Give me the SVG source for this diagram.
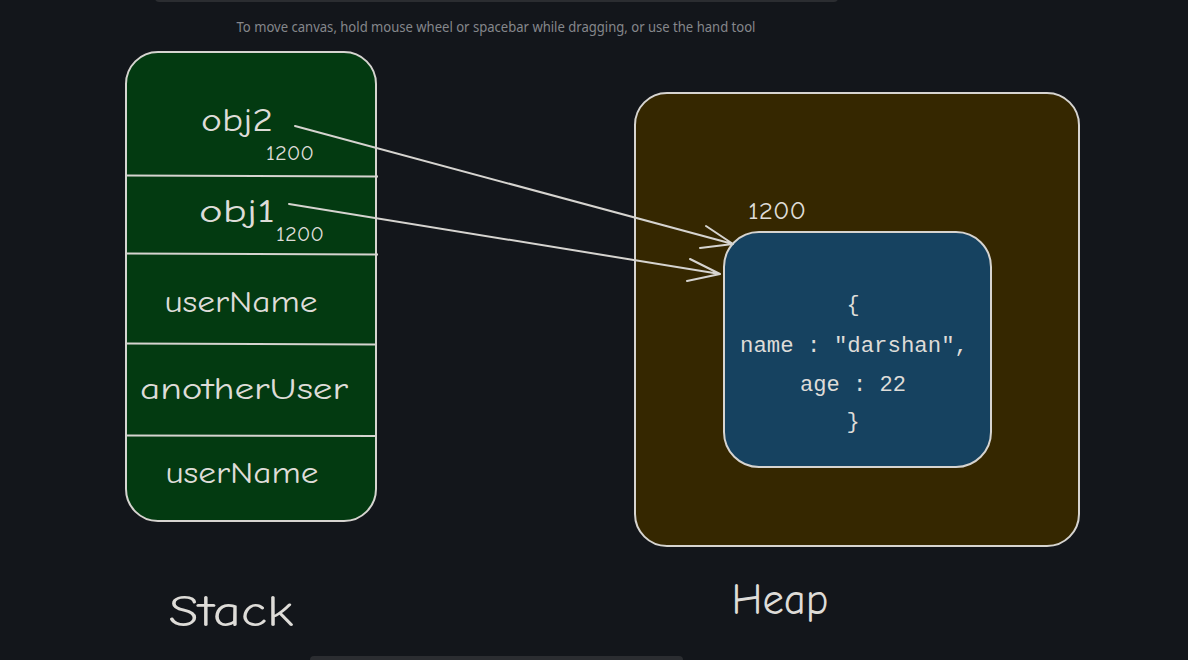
<svg xmlns="http://www.w3.org/2000/svg" width="1188" height="660" viewBox="0 0 1188 660">
<style>
.hand{font-family:"Comic Neue","Noto Sans","DejaVu Sans",sans-serif;fill:#dedcd8;text-anchor:middle}
.mono{font-family:"Liberation Mono","DejaVu Sans Mono",monospace;fill:#dedcd8;text-anchor:middle;font-size:22px}
.box{stroke:#d6d4d0;stroke-width:2}
.div{stroke:#d6d4d0;stroke-width:1.8}
.conn{stroke:#d6d4d0;stroke-width:2;fill:none;stroke-linecap:round;stroke-linejoin:round}
</style>
<rect width="1188" height="660" fill="#13161b"/>
<rect x="155" y="-6" width="683" height="8" rx="4" fill="#2b2d31"/>
<rect x="310" y="656" width="373" height="10" rx="4" fill="#2b2d31"/>
<text x="496" y="32" font-family="Noto Sans, Open Sans, sans-serif" font-size="13.5" fill="#85878b" text-anchor="middle" textLength="519" lengthAdjust="spacingAndGlyphs">To move canvas, hold mouse wheel or spacebar while dragging, or use the hand tool</text>

<g id="stack">
<rect class="box" x="126" y="52" width="250" height="469" rx="32" fill="#033a11"/>
<line class="div" x1="126" y1="175.5" x2="378" y2="176.5"/>
<line class="div" x1="126" y1="253.5" x2="378" y2="254.5"/>
<line class="div" x1="126" y1="343.5" x2="376" y2="344.5"/>
<line class="div" x1="126" y1="435.5" x2="376" y2="436"/>
</g>
<g id="stack-obj2"><text class="hand" x="237" y="131" font-size="32" textLength="72" lengthAdjust="spacingAndGlyphs">obj2</text><text class="hand" x="290" y="160" font-size="21" textLength="48" lengthAdjust="spacingAndGlyphs">1200</text></g>
<g id="stack-obj1"><text class="hand" x="237" y="222" font-size="32" textLength="76" lengthAdjust="spacingAndGlyphs">obj1</text><text class="hand" x="300" y="241" font-size="21" textLength="48" lengthAdjust="spacingAndGlyphs">1200</text></g>
<g id="stack-userName1"><text class="hand" x="241" y="312" font-size="31" textLength="153" lengthAdjust="spacingAndGlyphs">userName</text></g>
<g id="stack-anotherUser"><text class="hand" x="244" y="399" font-size="31" textLength="208" lengthAdjust="spacingAndGlyphs">anotherUser</text></g>
<g id="stack-userName2"><text class="hand" x="242" y="483" font-size="31" textLength="153" lengthAdjust="spacingAndGlyphs">userName</text></g>
<g id="stack-label"><text class="hand" x="231" y="626" font-size="44" textLength="125" lengthAdjust="spacingAndGlyphs">Stack</text></g>

<g id="heap">
<rect class="box" x="635" y="93" width="444" height="453" rx="32" fill="#352700"/>
<text class="hand" x="777" y="219" font-size="25" textLength="58" lengthAdjust="spacingAndGlyphs">1200</text>
</g>
<g id="object">
<rect class="box" x="724" y="232" width="267" height="235" rx="35" fill="#164260"/>
<text class="mono" x="853" y="311">{</text>
<text class="mono" x="854" y="352" textLength="228" lengthAdjust="spacingAndGlyphs">name : "darshan",</text>
<text class="mono" x="853" y="391" textLength="106" lengthAdjust="spacingAndGlyphs">age : 22</text>
<text class="mono" x="853" y="428">}</text>
</g>
<g id="heap-label"><text class="hand" x="780" y="614" font-size="44" textLength="97" lengthAdjust="spacingAndGlyphs">Heap</text></g>

<g id="connectors">
<path class="conn" d="M295 126 L733 244 M706 226 L733 244 L700 248"/>
<path class="conn" d="M289 204 L720 274 M690 259 L720 274 L687 281"/>
</g>
</svg>
